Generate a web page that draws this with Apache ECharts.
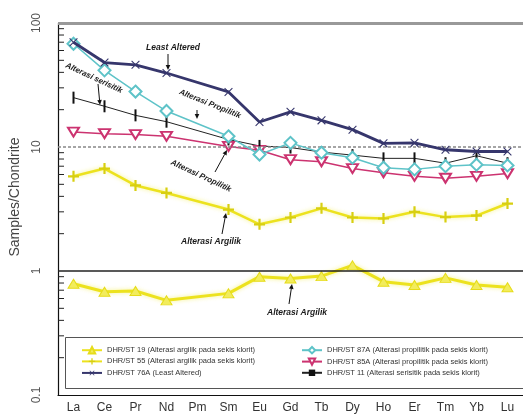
<!DOCTYPE html>
<html>
<head>
<meta charset="utf-8">
<script src="https://cdn.jsdelivr.net/npm/echarts@6/dist/echarts.min.js"></script>
<style>
  html, body { margin: 0; padding: 0; background: #fff; }
  #chart { width: 523px; height: 416px; }
</style>
</head>
<body>
<div id="chart"></div>
<script>
// REE pattern, normalised to chondrite
const categories = ['La', 'Ce', 'Pr', 'Nd', 'Pm', 'Sm', 'Eu', 'Gd', 'Tb', 'Dy', 'Ho', 'Er', 'Tm', 'Yb', 'Lu'];

const st19 = [0.79, 0.68, 0.69, 0.58, null, 0.66, 0.90, 0.87, 0.91, 1.11, 0.82, 0.77, 0.88, 0.77, 0.74];
const st55 = [5.8, 6.7, 4.9, 4.26, null, 3.13, 2.38, 2.7, 3.2, 2.7, 2.65, 3.0, 2.72, 2.8, 3.5];
const st76A = [70, 48, 46, 39.5, null, 27.8, 15.9, 19.2, 16.4, 13.8, 10.7, 10.8, 9.5, 9.2, 9.2];
const st87A = [68, 41.5, 28, 19.5, null, 12.2, 8.7, 10.8, 9.0, 8.2, 6.8, 6.6, 7.0, 7.2, 7.1];
const st85A = [13.2, 12.8, 12.6, 12.2, null, 10.1, 9.4, 7.9, 7.6, 6.7, 6.2, 5.8, 5.6, 5.8, 6.1];
const st11 = [25, 21.3, 18, 16, null, 11.5, 10.2, 9.9, 9.1, 8.6, 8.1, 8.1, 7.4, 8.5, 7.4];

const minorTicks = [0.2, 0.3, 0.4, 0.5, 0.6, 0.7, 0.8, 0.9, 2, 3, 4, 5, 6, 7, 8, 9, 20, 30, 40, 50, 60, 70, 80, 90];

const names = {
  st19: 'DHR/ST 19 (Alterasi argilik pada sekis klorit)',
  st55: 'DHR/ST 55 (Alterasi argilik pada sekis klorit)',
  st76A: 'DHR/ST 76A (Least Altered)',
  st87A: 'DHR/ST 87A (Alterasi propilitik pada sekis klorit)',
  st85A: 'DHR/ST 85A (Alterasi propilitik pada sekis klorit)',
  st11: 'DHR/ST 11 (Alterasi serisitik pada sekis klorit)'
};

const plusPath = 'path://M4,0h2v4h4v2h-4v4h-2v-4h-4v-2h4z';
const thinPlus = 'path://M4.5,0h1v4.5h4.5v1h-4.5v4.5h-1v-4.5h-4.5v-1h4.5z';
const barPath = 'path://M0,0h2v10h-2z';

function arrow(x1, y1, x2, y2) {
  const a = Math.atan2(y2 - y1, x2 - x1), L = 5, W = 2.3;
  const bx = x2 - L * Math.cos(a), by = y2 - L * Math.sin(a);
  return [
    { type: 'line', z: 50, shape: { x1: x1, y1: y1, x2: bx, y2: by }, style: { stroke: '#111', lineWidth: 1 } },
    { type: 'polygon', z: 50, shape: { points: [[x2, y2], [bx + W * Math.sin(a), by - W * Math.cos(a)], [bx - W * Math.sin(a), by + W * Math.cos(a)]] }, style: { fill: '#111' } }
  ];
}

function note(text, x, y, deg, size) {
  return {
    type: 'text', z: 50, x: x, y: y, rotation: -deg * Math.PI / 180,
    style: { text: text, x: 0, y: 0, align: 'center', verticalAlign: 'middle',
      font: 'italic bold ' + (size || 8) + 'px "Liberation Sans", Arial', fill: '#1a1a1a' }
  };
}

const chart = echarts.init(document.getElementById('chart'), null, { renderer: 'canvas' });

const legendText = { fontSize: 7.5, color: '#333', fontFamily: '"Liberation Sans", Arial' };

chart.setOption({
  animation: false,
  backgroundColor: '#fff',
  grid: { left: 58, top: 23, width: 471, bottom: 21, containLabel: false },
  xAxis: {
    type: 'category',
    data: categories,
    boundaryGap: true,
    axisLine: { lineStyle: { color: '#111', width: 1.2 } },
    axisTick: { inside: true, alignWithLabel: true, length: 5, lineStyle: { color: '#333' } },
    axisLabel: { fontSize: 12, color: '#333', margin: 7, fontFamily: '"Liberation Sans", Arial' },
    splitLine: { show: false }
  },
  yAxis: {
    type: 'log',
    logBase: 10,
    min: 0.1,
    max: 100,
    name: 'Samples/Chondrite',
    nameLocation: 'middle',
    nameRotate: 90,
    nameGap: 36,
    nameTextStyle: { fontSize: 14, color: '#444', fontFamily: '"Liberation Sans", Arial', padding: [0, 0, 0, 24] },
    axisLine: { show: true, lineStyle: { color: '#111', width: 1.2 } },
    axisTick: { inside: false, length: 9, lineStyle: { color: '#222', width: 1.2 } },
    axisLabel: { rotate: 90, margin: 15, fontSize: 12, color: '#555', fontFamily: '"Liberation Sans", Arial',
      formatter: function (v) { return String(v); } },
    splitLine: { show: false }
  },
  legend: [
    {
      left: 76, top: 341, orient: 'vertical', itemGap: 3, itemWidth: 20, itemHeight: 8,
      textStyle: legendText,
      data: [names.st19, names.st55, names.st76A]
    },
    {
      left: 296, top: 341, orient: 'vertical', itemGap: 3, itemWidth: 20, itemHeight: 8,
      textStyle: legendText,
      data: [names.st87A, names.st85A, names.st11]
    }
  ],
  graphic: [
    { type: 'rect', z: -1, shape: { x: 65.5, y: 337.5, width: 470, height: 51 }, style: { fill: '#fff', stroke: '#555', lineWidth: 1 } },
    note('Least Altered', 173, 48, 0, 8.5),
    ...arrow(168, 54, 168, 70),
    note('Alterasi serisitik', 94, 78, 25, 8),
    ...arrow(98, 84, 100, 105),
    note('Alterasi Propilitik', 210, 104, 22, 8),
    ...arrow(197, 110, 197, 119),
    note('Alterasi Propilitik', 201, 176, 25, 8),
    ...arrow(215, 172, 227, 150),
    note('Alterasi Argilik', 211, 242, 0, 8.5),
    ...arrow(222, 234, 226, 213),
    note('Alterasi Argilik', 297, 313, 0, 8.5),
    ...arrow(289, 304, 292, 284)
  ],
  series: [
    {
      name: names.st19, type: 'line', data: st19, connectNulls: true, z: 3,
      symbol: 'triangle', symbolSize: [11, 9],
      lineStyle: { color: '#ece21e', width: 3, shadowColor: 'rgba(240,235,60,0.6)', shadowBlur: 4 },
      itemStyle: { color: '#f2ec5c', borderColor: '#e6dc1a', borderWidth: 1 },
      markLine: {
        silent: true, symbol: 'none', label: { show: false }, animation: false,
        data: [
          { yAxis: 100, lineStyle: { color: '#999', width: 3, type: 'solid' } },
          { yAxis: 10, lineStyle: { color: '#888', width: 1.5, type: [3, 2] } },
          { yAxis: 1, lineStyle: { color: '#222', width: 1.5, type: 'solid' } }
        ]
      }
    },
    {
      name: names.st55, type: 'line', data: st55, connectNulls: true, z: 3,
      symbol: plusPath, symbolSize: 11,
      lineStyle: { color: '#ece21e', width: 2.5, shadowColor: 'rgba(240,235,60,0.6)', shadowBlur: 4 },
      itemStyle: { color: '#d8cf10' }
    },
    {
      name: names.st76A, type: 'line', data: st76A, connectNulls: true, z: 6,
      symbol: thinPlus, symbolSize: 11, symbolRotate: 45,
      lineStyle: { color: '#36366c', width: 2.8 },
      itemStyle: { color: '#36366c' }
    },
    {
      name: names.st87A, type: 'line', data: st87A, connectNulls: true, z: 5,
      symbol: 'emptyDiamond', symbolSize: 12,
      lineStyle: { color: '#5ec3c8', width: 1.5 },
      itemStyle: { color: '#5ec3c8', borderWidth: 1.5 }
    },
    {
      name: names.st85A, type: 'line', data: st85A, connectNulls: true, z: 4,
      symbol: 'emptyTriangle', symbolRotate: 180, symbolSize: [11, 9],
      lineStyle: { color: '#cc3370', width: 1.5 },
      itemStyle: { color: '#cc3370', borderWidth: 1.5 }
    },
    {
      name: names.st11, type: 'line', data: st11, connectNulls: true, z: 4,
      symbol: barPath, symbolSize: [2, 12],
      lineStyle: { color: '#222', width: 1 },
      itemStyle: { color: '#111' }
    },
    {
      type: 'custom', silent: true, z: 10,
      data: minorTicks.map(function (v) { return [0, v]; }),
      encode: { x: 0, y: 1 },
      renderItem: function (params, api) {
        const y = api.coord([0, api.value(1)])[1];
        const x = params.coordSys.x;
        return { type: 'line', shape: { x1: x, y1: y, x2: x + 6, y2: y }, style: { stroke: '#222', lineWidth: 1 } };
      }
    }
  ]
});
</script>
</body>
</html>
